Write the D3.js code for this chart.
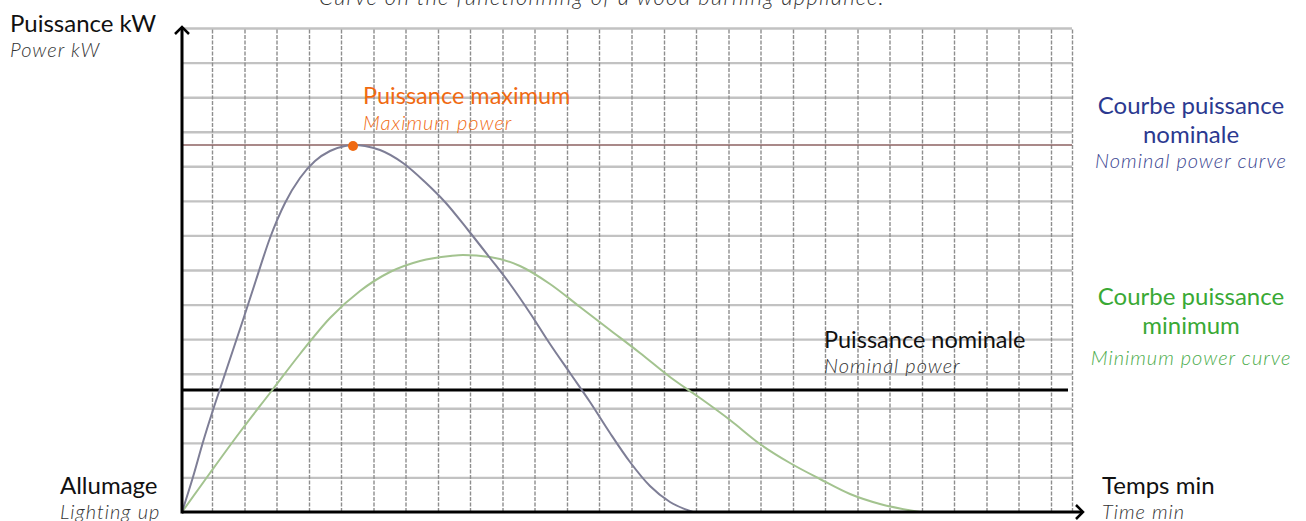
<!DOCTYPE html>
<html>
<head>
<meta charset="utf-8">
<script src="https://cdn.jsdelivr.net/npm/d3@7"></script>
<style>
  body { margin: 0; background: #fff; }
  svg { display: block; }
  .fr { font-family: Lato, "Open Sans", sans-serif; font-weight: 400; }
  .en { font-family: Lato, "Open Sans", sans-serif; font-weight: 300; font-style: italic; letter-spacing: 1px; }
</style>
</head>
<body>
<div class="container"></div>
<script>
// Courbe de fonctionnement d'un appareil a bois

const WIDTH = 1306;
const HEIGHT = 521;
const MARGIN = { TOP: 28, BOTTOM: 9, LEFT: 182, RIGHT: 234 };

const width = WIDTH - MARGIN.LEFT - MARGIN.RIGHT;
const height = HEIGHT - MARGIN.TOP - MARGIN.BOTTOM;

// echelles sans graduation (unites arbitraires)
const TIME_MAX = 178;
const POWER_MAX = 48.4;

// quadrillage du papier
const gridTimes = [6.0, 12.5, 18.9, 25.4, 31.8, 38.3, 44.7, 51.2, 57.6, 64.1, 70.5, 77.0, 83.4, 89.9, 96.4, 102.8, 109.3, 115.7, 122.2, 128.6, 135.1, 141.5, 148.0, 154.4, 160.9, 167.3, 173.8, 178];
const gridPowers = [3.46, 6.91, 10.37, 13.83, 17.29, 20.74, 24.2, 27.66, 31.11, 34.57, 38.03, 41.48, 44.94, 48.4];

// courbe puissance nominale
const nominalTime  = [0, 2.2, 4.2, 6.2, 8.2, 10.2, 12.2, 14.8, 17.6, 20.6, 23.6, 26.6, 29.6, 32.6, 34.2, 36.6, 39.6, 44.2, 48.6, 52.6, 57.2, 61.6, 65.6, 69.6, 73.6, 77.6, 81.6, 85.6, 89.6, 93.6, 97.6, 102.2];
const nominalPower = [0, 3.5, 7.0, 10.2, 13.2, 16.2, 19.2, 23.2, 27.4, 30.9, 33.4, 35.1, 36.1, 36.6, 36.7, 36.6, 36.2, 34.9, 33.0, 31.0, 28.2, 25.4, 22.8, 19.9, 16.8, 13.9, 11.0, 7.9, 5.0, 2.6, 1.0, 0];

// courbe puissance minimum
const minimumTime  = [0, 5.6, 11.6, 17.6, 23.6, 29.6, 35.6, 41.6, 47.6, 53.6, 56.2, 61.6, 67.6, 73.6, 79.6, 85.6, 91.6, 97.6, 103.6, 109.6, 115.6, 121.6, 127.6, 133.6, 139.6, 147.6];
const minimumPower = [0, 3.9, 8.0, 11.9, 15.8, 19.4, 22.1, 24.0, 25.1, 25.6, 25.7, 25.5, 24.6, 22.8, 20.5, 18.2, 15.9, 13.5, 11.4, 9.2, 6.8, 4.9, 3.3, 1.8, 0.8, 0];

const maxPower = 36.7;
const maxPowerTime = 34.2;
const nominalLevel = 12.2;

const svg = d3.select('.container')
  .append('svg')
    .attr('width', WIDTH)
    .attr('height', HEIGHT);

const chart = svg.append('g')
  .attr('transform', `translate(${MARGIN.LEFT}, ${MARGIN.TOP})`);

const xscale = d3.scaleLinear().domain([0, TIME_MAX]).range([0, width]);
const yscale = d3.scaleLinear().domain([0, POWER_MAX]).range([height, 0]);

// fond quadrille
chart.append('g')
  .attr('class', 'grid-y')
  .call(d3.axisLeft(yscale).tickValues(gridPowers).tickSize(-width).tickFormat(''))
  .call(g => g.select('.domain').remove())
  .call(g => g.selectAll('line')
    .attr('stroke', '#c2c2c2')
    .attr('stroke-width', 2.4));

chart.append('g')
  .attr('class', 'grid-x')
  .attr('transform', `translate(0, ${height})`)
  .call(d3.axisBottom(xscale).tickValues(gridTimes).tickSize(-height).tickFormat(''))
  .call(g => g.select('.domain').remove())
  .call(g => g.selectAll('line')
    .attr('stroke', '#8e8e8e')
    .attr('stroke-width', 1.4)
    .attr('stroke-dasharray', '4,1.5'));

// ligne puissance maximum
chart.append('line')
  .attr('x1', xscale(0)).attr('x2', xscale(TIME_MAX))
  .attr('y1', yscale(maxPower)).attr('y2', yscale(maxPower))
  .attr('stroke', '#8c6262')
  .attr('stroke-width', 1.6);

// ligne puissance nominale
chart.append('line')
  .attr('x1', xscale(0)).attr('x2', xscale(TIME_MAX) - 4)
  .attr('y1', yscale(nominalLevel)).attr('y2', yscale(nominalLevel))
  .attr('stroke', '#000')
  .attr('stroke-width', 3);

const line = d3.line()
  .x(d => xscale(d[0]))
  .y(d => yscale(d[1]))
  .curve(d3.curveMonotoneX);

chart.append('path')
  .datum(d3.zip(minimumTime, minimumPower))
  .attr('d', line)
  .attr('fill', 'none')
  .attr('stroke', '#a3c38f')
  .attr('stroke-width', 2);

chart.append('path')
  .datum(d3.zip(nominalTime, nominalPower))
  .attr('d', line)
  .attr('fill', 'none')
  .attr('stroke', '#7e7e96')
  .attr('stroke-width', 2);

chart.append('circle')
  .attr('cx', xscale(maxPowerTime))
  .attr('cy', yscale(maxPower) + 1)
  .attr('r', 5)
  .attr('fill', '#f06a12');

// axes avec fleches
const arrow = (x, y, dir) => {
  const s = 7;
  const pts = dir === 'up'
    ? [[x - s, y + s], [x, y], [x + s, y + s]]
    : [[x - s, y - s], [x, y], [x - s, y + s]];
  svg.append('path')
    .attr('d', d3.line()(pts))
    .attr('fill', 'none')
    .attr('stroke', '#000')
    .attr('stroke-width', 2.5);
};

svg.append('line')
  .attr('x1', MARGIN.LEFT).attr('x2', MARGIN.LEFT)
  .attr('y1', MARGIN.TOP + height + 1.5).attr('y2', MARGIN.TOP - 1)
  .attr('stroke', '#000').attr('stroke-width', 3);
arrow(MARGIN.LEFT, MARGIN.TOP - 1, 'up');

svg.append('line')
  .attr('x1', MARGIN.LEFT).attr('x2', MARGIN.LEFT + width + 11)
  .attr('y1', MARGIN.TOP + height).attr('y2', MARGIN.TOP + height)
  .attr('stroke', '#000').attr('stroke-width', 3);
arrow(MARGIN.LEFT + width + 11, MARGIN.TOP + height, 'right');

// textes
const label = (x, y, txt, cls, size, color, anchor) => {
  return svg.append('text')
    .attr('class', cls)
    .attr('x', x).attr('y', y)
    .attr('font-size', size)
    .attr('fill', color)
    .attr('text-anchor', anchor || 'start')
    .text(txt);
};

label(602, 5, 'Curve on the functionning of a wood burning appliance.', 'en', 22, '#333', 'middle')
  .style('letter-spacing', '1.3px');

label(10, 32, 'Puissance kW', 'fr', 24, '#111');
label(10, 57, 'Power kW', 'en', 20, '#333');

label(60, 494, 'Allumage', 'fr', 24, '#111');
label(60, 519, 'Lighting up', 'en', 20, '#333');

label(1102, 494, 'Temps min', 'fr', 24, '#111');
label(1102, 519, 'Time min', 'en', 20, '#333');

label(363, 104, 'Puissance maximum', 'fr', 23.5, '#f06a12');
label(363, 130, 'Maximum power', 'en', 20, '#f06a12');

label(824, 348, 'Puissance nominale', 'fr', 23.5, '#111');
label(824, 373, 'Nominal power', 'en', 20, '#333');

label(1191, 114, 'Courbe puissance', 'fr', 24, '#2b3990', 'middle');
label(1191, 143, 'nominale', 'fr', 24, '#2b3990', 'middle');
label(1191, 168, 'Nominal power curve', 'en', 20, '#3a4590', 'middle');

label(1191, 305, 'Courbe puissance', 'fr', 24, '#39a935', 'middle');
label(1191, 334, 'minimum', 'fr', 24, '#39a935', 'middle');
label(1191, 365, 'Minimum power curve', 'en', 20, '#4aab4a', 'middle');
</script>
</body>
</html>
